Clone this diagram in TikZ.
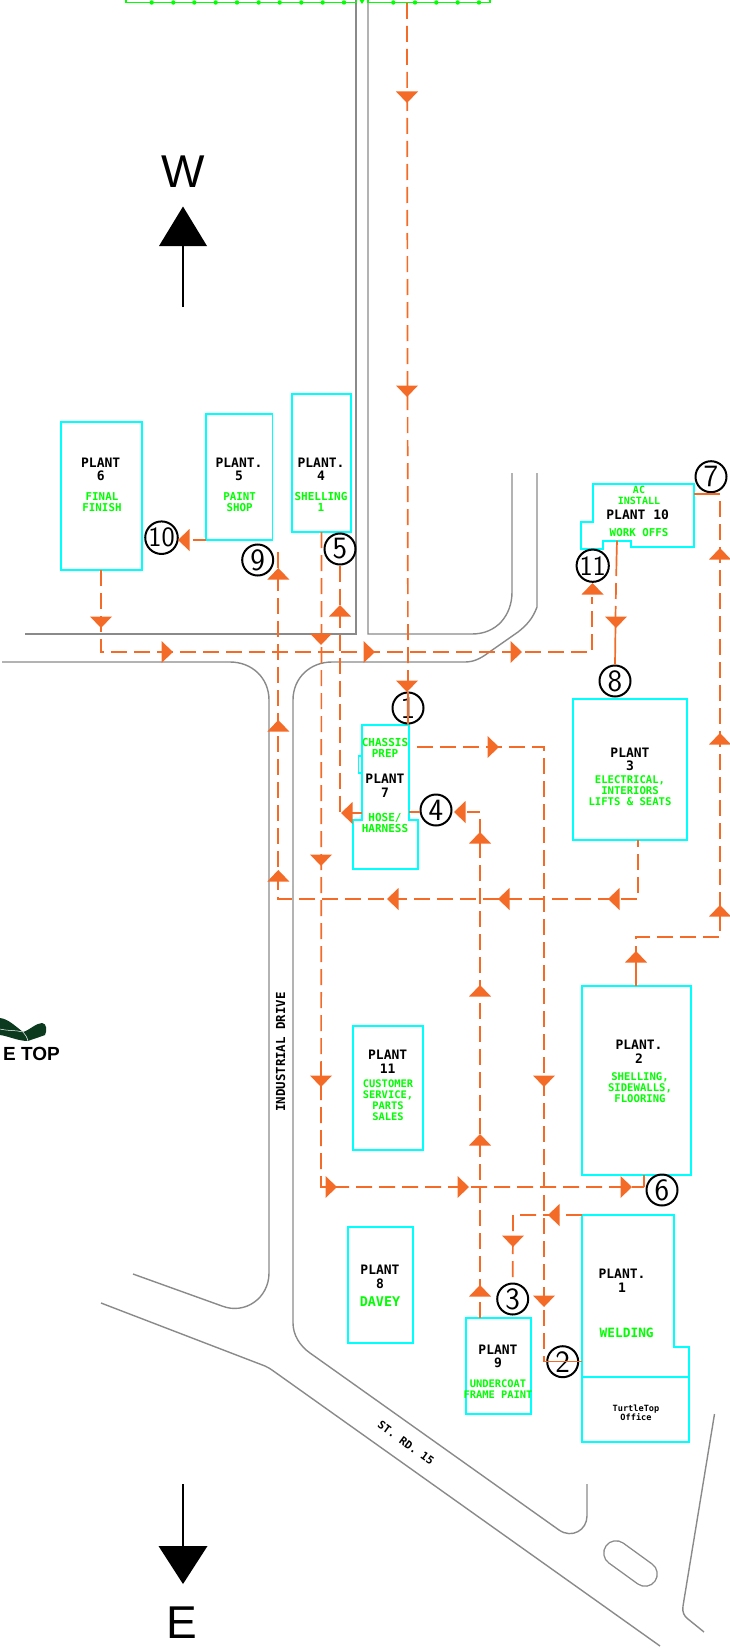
\documentclass[tikz,border=0pt]{standalone}
\usepackage{fontspec}
\setmainfont{Liberation Sans}
\newfontfamily\cadfont{DejaVu Sans Mono}
\definecolor{cyanln}{HTML}{00FFFF}
\definecolor{greenln}{HTML}{00FF00}
\definecolor{flowc}{HTML}{F36B26}
\definecolor{roadc}{HTML}{8A8A8A}
\definecolor{turtle}{HTML}{0B3A1E}
\newcommand{\aU}[2]{\fill[flowc] (#1,#2) -- (#1+11,#2+11.5) -- (#1-11,#2+11.5) -- cycle;}
\newcommand{\aD}[2]{\fill[flowc] (#1,#2) -- (#1+11,#2-11.5) -- (#1-11,#2-11.5) -- cycle;}
\newcommand{\aR}[2]{\fill[flowc] (#1,#2) -- (#1-11.5,#2-11) -- (#1-11.5,#2+11) -- cycle;}
\newcommand{\aL}[2]{\fill[flowc] (#1,#2) -- (#1+11.5,#2-11) -- (#1+11.5,#2+11) -- cycle;}
\tikzset{
  x=1pt,y=-1pt,
  plantbox/.style={draw=cyanln,line width=1.8pt,inner sep=0pt,outer sep=0pt,anchor=north west},
  plantln/.style={draw=cyanln,line width=1.8pt},
  road/.style={draw=roadc,line width=1.4pt},
  flow/.style={draw=flowc,line width=1.7pt,dash pattern=on 16pt off 7pt},
  flowsolid/.style={draw=flowc,line width=1.7pt},
  blk/.style={font=\cadfont\bfseries\fontsize{13}{13.3}\selectfont,text=black,align=center,inner sep=0pt},
  grn/.style={font=\cadfont\bfseries\fontsize{#1}{11}\selectfont,text=greenln,align=center,inner sep=0pt},
  grn/.default=10.8,
  stop/.style={draw=black,line width=2pt,circle,minimum size=31pt,inner sep=0pt,font=\sffamily\fontsize{31}{31}\selectfont},
  stopw/.style={stop,font=\sffamily\fontsize{28}{28}\selectfont},
  compass/.style={font=\fontsize{46}{46}\selectfont,inner sep=0pt}
}
\begin{document}
\begin{tikzpicture}
\useasboundingbox (0,0) rectangle (730,1648);
\clip (0,0) rectangle (730,1648);
% roads
\draw[road] (356,0) -- (356,634) -- (25,634);
\draw[road] (368,0) -- (368,634) -- (472,634) .. controls (497,634) and (512,615) .. (512,592) -- (512,473);
\draw[road] (537,473) -- (537,607) .. controls (533,618) and (527,625) .. (518,632) -- (488,653) .. controls (480,659) and (473,662) .. (465,662) -- (332,662) .. controls (310,662) and (293,678) .. (293,700) -- (293,1323) .. controls (293,1335) and (300,1346) .. (310,1353) -- (559,1530) .. controls (572,1539) and (587,1530) .. (587,1516) -- (587,1484);
\draw[road] (2,662) -- (230,662) .. controls (252,662) and (269,678) .. (269,700) -- (269,1273) .. controls (269,1298) and (245,1315) .. (222,1306) -- (133,1274);
\draw[road] (101,1303) -- (265,1366) .. controls (268,1367) and (270,1369) .. (272,1370) -- (660,1646);
\draw[road] (714.5,1414) -- (683,1606) .. controls (682,1612) and (684,1616) .. (688,1619) -- (704,1632);
\draw[draw=roadc,line width=25.8pt,line cap=round] (616,1553) -- (645,1574);
\draw[draw=white,line width=23pt,line cap=round] (616,1553) -- (645,1574);
% top fence
\draw[draw=greenln,line width=1.5pt] (126,0) -- (126,2.5) -- (356.5,2.5) -- (356.5,0);
\draw[draw=greenln,line width=1.5pt] (368,0) -- (368,2.5) -- (490,2.5) -- (490,0);
\foreach \px in {151.7,173.3,194.3,215.7,237,258.7,279.7,301.3,322.7,344,393.3,415,436.3,457.7,479}
  \fill[greenln] (\px,2.5) circle (2.2);
\fill[greenln] (359.5,0) -- (364.5,0) -- (362,4) -- cycle;
% logo
\fill[turtle] (0,1018) .. controls (8,1019) and (14,1025) .. (23,1032) .. controls (30,1030) and (36,1023) .. (42,1023) .. controls (47,1023) and (47,1031) .. (45,1035) .. controls (40,1037) and (33,1039) .. (28,1041) .. controls (18,1041) and (8,1036) .. (0,1035) -- cycle;
\draw[white,line width=.5pt] (0,1029) .. controls (8,1031) and (16,1030) .. (23,1032) .. controls (25,1034) and (27,1037) .. (28,1041);
\node[anchor=base east,inner sep=0pt,font=\bfseries\fontsize{19}{19}\selectfont] (logo) at (60,1060) {E TOP};
% compass
\coordinate (wtail) at (183,307);
\coordinate (wbase) at (183,246);
\draw[line width=1.5pt] (wtail) -- (wbase);
\fill (183,206.5) -- (207,246) -- (159,246) -- cycle;
\node[compass] (wlab) at (183,171.5) {W};
\coordinate (etail) at (183,1484);
\coordinate (ebase) at (183,1546);
\draw[line width=1.5pt] (etail) -- (ebase);
\fill (183,1584) -- (207.5,1546) -- (158.5,1546) -- cycle;
\node[compass] (elab) at (182,1623) {E};
% plants
\node[plantbox,minimum width=81pt,minimum height=148pt] (p6) at (61,422) {};
\node[plantbox,minimum width=66.5pt,minimum height=126pt] (p5) at (206,414) {};
\node[plantbox,minimum width=59pt,minimum height=138pt] (p4) at (292,394) {};
\node[plantbox,minimum width=114.3pt,minimum height=141pt] (p3) at (572.7,699) {};
\node[plantbox,minimum width=108.7pt,minimum height=189.3pt] (p2) at (582,985.7) {};
\node[plantbox,minimum width=69.7pt,minimum height=124pt] (p11) at (353.3,1025.7) {};
\node[plantbox,minimum width=65.3pt,minimum height=116.3pt] (p8) at (348,1226.7) {};
\node[plantbox,minimum width=65pt,minimum height=96.3pt] (p9) at (466,1317.7) {};
\node[plantbox,minimum width=107pt,minimum height=65pt] (off) at (582,1377) {};
\draw[plantln] (582,1215) -- (674,1215) -- (674,1347) -- (689,1347) -- (689,1377) -- (582,1377) -- cycle;
\draw[plantln] (362,725) -- (409,725) -- (409,820) -- (418,820) -- (418,869) -- (353,869) -- (353,820) -- (362,820) -- cycle;
\draw[draw=cyanln,line width=1.2pt] (362,756) -- (358.5,756) -- (358.5,773) -- (362,773);
\draw[plantln] (592.7,484) -- (694.3,484) -- (694.3,546.7) -- (630.7,546.7) -- (630.7,540.7) -- (602.7,540.7) -- (602.7,549.3) -- (581,549.3) -- (581,521.7) -- (592.7,521.7) -- cycle;
% numbered stops
\node[stop] (s1) at (408,708) {1};
\node[stop] (s2) at (562.7,1361.7) {2};
\node[stop] (s3) at (512.7,1299) {3};
\node[stop] (s4) at (436,810) {4};
\node[stop] (s5) at (340,549) {5};
\node[stop] (s6) at (662,1190) {6};
\node[stop] (s7) at (711,476.7) {7};
\node[stop] (s8) at (615,681) {8};
\node[stop] (s9) at (257.7,560) {9};
\node[stopw] (s10) at (161.5,537.7) {10};
\node[stopw] (s11) at (592.7,565.7) {11};
% flow endpoints
\coordinate (t0) at (407,3);
\coordinate (c6a) at (101,652);
\coordinate (c11a) at (592,652);
\coordinate (c5b) at (340,813);
\coordinate (c4a) at (480,812);
\coordinate (c3a) at (638,899);
\coordinate (c3b) at (278.3,899);
\coordinate (c9) at (278.3,552);
\coordinate (c7l) at (362,813);
\coordinate (c4b) at (321,1187);
\coordinate (c6b) at (644,1187);
\coordinate (c7a) at (720,494);
\coordinate (c7b) at (720,937);
\coordinate (c7c) at (636,937);
\coordinate (c2a) at (544,747);
\coordinate (c2b) at (544,1361.5);
\coordinate (c1a) at (513,1215);
% flows
\draw[flow] (t0) -- (s1.north);
\draw[flowsolid] (s1.north) -- (s1.south);
\draw[flow] (p6.south -| c6a) -- (c6a) -- (c11a) -- (592,597);
\draw[flowsolid] (p5.west |- 0,540) -- (193,540);
\draw[flow] (c9) -- (c3b) -- (c3a) -- (p3.south -| c3a);
\draw[flow] (s5.south) -- (c5b) -- (355,813);
\draw[flowsolid] (352,813) -- (c7l);
\draw[flow] (p4.south) -- (c4b) -- (c6b);
\draw[flowsolid] (c6b) -- (p2.south -| c6b);
\draw[flow] (417,747) -- (c2a) -- (c2b);
\draw[flowsolid] (c2b) -- (582,1361.5);
\draw[flow] (p9.north -| c4a) -- (c4a) -- (467,812);
\draw[flowsolid] (409,812) -- (420,812);
\draw[flowsolid] (617,540.7) -- (616.5,560);
\draw[flow] (616.5,560) -- (615.5,617);
\draw[flowsolid] (615.5,625) -- (s8.north);
\draw[flowsolid] (694,494) -- (704,494);
\draw[flow] (704,494) -- (c7a) -- (c7b) -- (c7c) -- (636,962);
\draw[flowsolid] (636,962) -- (636,986);
\draw[flow] (582,1215) -- (c1a) -- (s3.north);
% arrowheads
\aD{407}{103}\aD{407}{397}\aD{407}{692}
\aD{101}{628}\aR{173}{652}\aR{375}{652}\aR{522}{652}\aU{592.5}{583}
\aL{178}{540}
\aU{278.3}{568}\aU{278.3}{720}\aU{278.3}{870}
\aU{340}{605}\aL{341}{813}
\aD{321}{645}\aD{321}{866}\aD{321}{1087}
\aL{454}{812}
\aU{480}{832}\aU{480}{985}\aU{480}{1134}\aU{480}{1285}
\aL{387}{899}\aL{498}{899}\aL{608}{899}
\aR{337}{1187}\aR{469}{1187}\aR{632}{1187}
\aR{499}{747}\aD{544}{1087}\aD{544}{1307}
\aL{548}{1215}\aD{513}{1247}
\aD{616}{628}
\aU{720}{548}\aU{720}{733}\aU{720}{905}\aU{636}{951}
% labels
\node[blk] (l6) at (100.7,469.3) {PLANT\\6};
\node[grn] (g6) at (102,502) {FINAL\\FINISH};
\node[blk] (l5) at (239,469) {PLANT.\\5};
\node[grn] (g5) at (239.7,502) {PAINT\\SHOP};
\node[blk] (l4) at (321,469) {PLANT.\\4};
\node[grn=11] (g4) at (321,502) {SHELLING\\1};
\node[grn=11] (g7a) at (385,747.7) {CHASSIS\\PREP};
\node[blk] (l7) at (385,785.7) {PLANT\\7};
\node[grn=11] (g7b) at (385,823) {HOSE/\\HARNESS};
\node[grn=10] (g10a) at (639,495.7) {AC\\INSTALL};
\node[blk] (l10) at (637.7,515) {PLANT 10};
\node[grn=10.8] (g10b) at (639,532.3) {WORK OFFS};
\node[blk] (l3) at (630,759.3) {PLANT\\3};
\node[grn=10.6] (g3) at (630,791) {ELECTRICAL,\\INTERIORS\\LIFTS \& SEATS};
\node[blk] (l2) at (639,1051.7) {PLANT.\\2};
\node[grn=10.6] (g2) at (640,1088) {SHELLING,\\SIDEWALLS,\\FLOORING};
\node[blk] (l11) at (387.7,1061.7) {PLANT\\11};
\node[grn=10.4] (g11) at (388,1100.7) {CUSTOMER\\SERVICE,\\PARTS\\SALES};
\node[blk] (l8) at (380,1276.7) {PLANT\\8};
\node[font=\cadfont\bfseries\fontsize{13.4}{13.4}\selectfont,text=greenln,inner sep=0pt] (g8) at (380,1302) {DAVEY};
\node[blk] (l9) at (498,1356.7) {PLANT\\9};
\node[grn=10.4] (g9) at (498,1389) {UNDERCOAT\\FRAME PAINT};
\node[blk] (l1) at (622,1280.7) {PLANT.\\1};
\node[font=\cadfont\bfseries\fontsize{12.8}{12.8}\selectfont,text=greenln,inner sep=0pt] (g1) at (626.7,1333) {WELDING};
\node[font=\cadfont\bfseries\fontsize{8.6}{9.2}\selectfont,align=center,inner sep=0pt] (loff) at (636,1413) {TurtleTop\\Office};
\node[font=\cadfont\bfseries\fontsize{12.4}{12.4}\selectfont,rotate=90,inner sep=0pt] (rd1) at (280.7,1052) {INDUSTRIAL DRIVE};
\node[font=\cadfont\bfseries\fontsize{11}{11}\selectfont,rotate=-36,inner sep=0pt] (rd2) at (406,1443) {ST. RD. 15};
\end{tikzpicture}
\end{document}
